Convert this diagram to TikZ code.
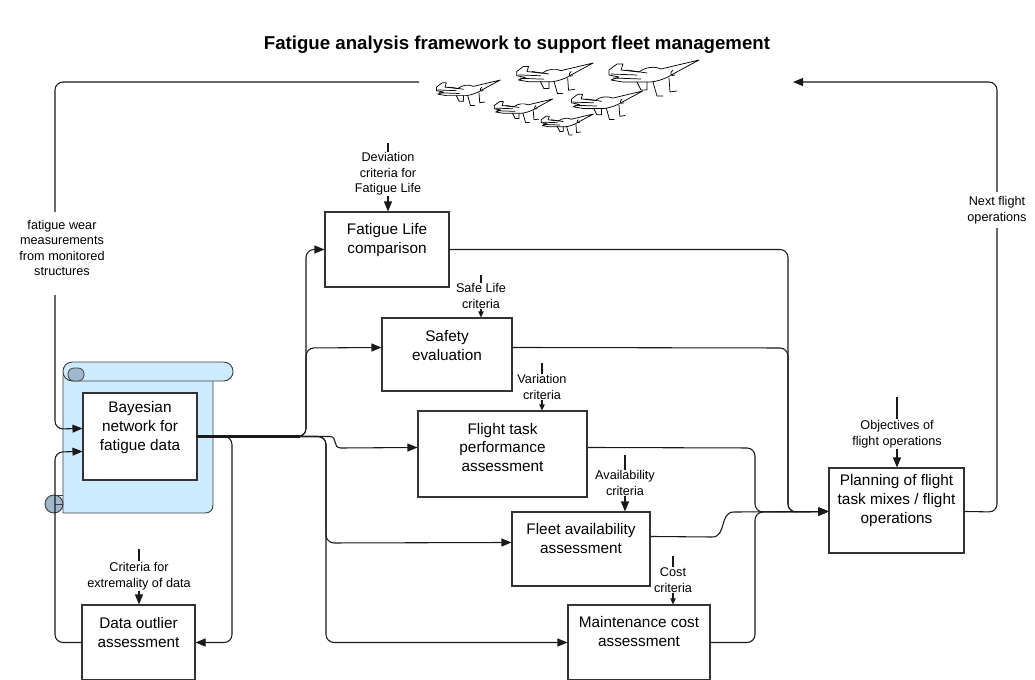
\documentclass[tikz,border=0pt]{standalone}
\usepackage{fontspec}
\setmainfont{Liberation Sans}
\usetikzlibrary{arrows.meta,calc}
\definecolor{scrollblue}{HTML}{CDEBFF}
\definecolor{curlblue}{HTML}{9FB8CD}
\begin{document}
\begin{tikzpicture}[x=0.75pt,y=-0.75pt,
  procbox/.style={draw=black!80,line width=0.8pt,fill=white,inner sep=0pt},
  boxtext/.style={font=\fontsize{11.5}{14.2}\selectfont,align=center,inner sep=0pt},
  crit/.style={font=\fontsize{9.5}{11.6}\selectfont,align=center,inner sep=0.5pt},
  conn/.style={draw=black!90,line width=0.8pt,rounded corners=6pt},
  sconn/.style={draw=black!90,line width=0.8pt,sharp corners},
  trunk/.style={conn,line width=1.6pt},
  arr/.style={-{Triangle[length=7.5pt,width=6pt]}},
  smallarr/.style={-{Triangle[length=4.5pt,width=4pt]}},
  jetline/.style={line width=0.55pt,line join=round,line cap=round},
  jet/.pic={
    \draw[jetline,fill=white] (2,10) -- (10,4) -- (16,4) -- (14,10) -- (32,12)
      .. controls (38,7) and (48,6) .. (54,9) -- (92,0) -- (66,14)
      .. controls (60,18) and (52,21) .. (44,22) -- (16,22) -- (4,20)
      -- (12,17) -- (2,15) -- cycle;
    \draw[jetline] (4,14) -- (30,15) (6,18) -- (34,19) (20,10) -- (40,13);
    \draw[jetline] (30,22) -- (34,30) -- (40,30) -- (40,22)
                   (46,22) -- (50,36) -- (56,36)
                   (62,18) -- (63,32) -- (70,31);
    \draw[jetline] (66,10) .. controls (62,13) and (64,17) .. (68,15);
  },
]
\useasboundingbox (0,0) rectangle (1035,679);
\clip (0,0) rectangle (1035,679);

% title
\node[font=\bfseries\fontsize{14}{17}\selectfont] (title) at (517,45)
  {Fatigue analysis framework to support fleet management};

% the fleet of aircraft
\pic[scale=0.71] at (435,80) {jet};
\pic[scale=0.85] at (515,63) {jet};
\pic[scale=1.0]  at (607,60) {jet};
\pic[scale=0.65] at (493,99) {jet};
\pic[scale=0.79] at (570,91) {jet};
\pic[scale=0.58] at (540,114) {jet};
\coordinate (fleetL) at (419,82);
\coordinate (fleetR) at (793,82);

% scroll behind the Bayesian network
\draw[black!75,line width=0.7pt,fill=scrollblue]
  (63,375) -- (63,513) -- (205,513) .. controls (210,513) and (213,510) .. (213,505)
  -- (213,375) -- cycle;
\draw[black!75,line width=0.7pt,fill=scrollblue,rounded corners=7pt]
  (63,362) rectangle (233,381);
\draw[black!75,line width=0.6pt,fill=curlblue,rounded corners=4.5pt]
  (68,368) rectangle (84,381);
\draw[black!75,line width=0.7pt,fill=curlblue] (54,504) circle[radius=9];
\draw[black!75,line width=0.6pt] (55,495) -- (63,495) (55,504) -- (63,504);

% process boxes
\node[procbox,minimum width=85.5pt,minimum height=65.25pt]  (bn) at (140,436.5) {};
\node[procbox,minimum width=93pt,minimum height=56.25pt]    (fl) at (387,249.5) {};
\node[procbox,minimum width=97.5pt,minimum height=54.75pt]  (se) at (447,354.5) {};
\node[procbox,minimum width=126.75pt,minimum height=64.5pt] (ft) at (502.5,454) {};
\node[procbox,minimum width=103.5pt,minimum height=55.5pt]  (fa) at (581,549) {};
\node[procbox,minimum width=106.5pt,minimum height=56.25pt] (mc) at (639,642.5) {};
\node[procbox,minimum width=84.75pt,minimum height=56.25pt] (do) at (138.5,642.5) {};
\node[procbox,minimum width=101.25pt,minimum height=63.75pt] (pl) at (896.5,510.5) {};

\node[boxtext] (bntxt) at ($(bn.north)+(0,35)$) {Bayesian\\network for\\fatigue data};
\node[boxtext] (fltxt) at ($(fl.north)+(0,29)$) {Fatigue Life\\comparison};
\node[boxtext] (setxt) at ($(se.north)+(0,28)$) {Safety\\evaluation};
\node[boxtext] (fttxt) at ($(ft.north)+(0,37)$) {Flight task\\performance\\assessment};
\node[boxtext] (fatxt) at ($(fa.north)+(0,27)$) {Fleet availability\\assessment};
\node[boxtext] (mctxt) at ($(mc.north)+(0,27)$) {Maintenance cost\\assessment};
\node[boxtext] (dotxt) at ($(do.north)+(0,28)$) {Data outlier\\assessment};
\node[boxtext] (pltxt) at ($(pl.north)+(0,33)$) {Planning of flight\\task mixes / flight\\operations};

% criteria feeding the boxes from above
\coordinate (dvs) at (388,143);
\node[crit] (dv) at (388,174) {Deviation\\criteria for\\Fatigue Life};
\draw[conn] (dvs) -- (dv.north);
\draw[conn,arr] (dv.south) -- (dv.south |- fl.north);

\coordinate (sls) at (481,275);
\node[crit] (sl) at (481,296) {Safe Life\\criteria};
\draw[conn] (sls) -- (sl.north);
\draw[conn,smallarr] (sl.south) -- (sl.south |- se.north);

\coordinate (vcs) at (542,363);
\node[crit] (vc) at (542,387) {Variation\\criteria};
\draw[conn] (vcs) -- (vc.north);
\draw[conn,smallarr] (vc.south) -- (vc.south |- ft.north);

\coordinate (avs) at (625,455);
\node[crit] (av) at (625,483) {Availability\\criteria};
\draw[conn] (avs) -- (av.north);
\draw[conn,arr] (av.south) -- (av.south |- fa.north);

\coordinate (cos) at (673,556);
\node[crit] (co) at (673,580) {Cost\\criteria};
\draw[conn] (cos) -- (co.north);
\draw[conn,smallarr] (co.south) -- (co.south |- mc.north);

\coordinate (exs) at (139,549);
\node[crit] (ex) at (139,576) {Criteria for\\extremality of data};
\draw[conn] (exs) -- (ex.north);
\draw[conn,arr] (ex.south) -- (ex.south |- do.north);

\coordinate (obs) at (897,397);
\node[crit] (ob) at (897,434) {Objectives of\\flight operations};
\draw[conn] (obs) -- (ob.north);
\draw[conn,arr] (ob.south) -- (ob.south |- pl.north);

% measurements from the fleet into the Bayesian network
\coordinate (fwa) at (55,212);
\coordinate (fwb) at (55,295);
\node[crit] (fw) at (62,248) {fatigue wear\\measurements\\from monitored\\structures};
\draw[conn] (fleetL) -- (55,82) -- (fwa);
\draw[conn,arr] (fwb) -- (55,429) -- ($(bn.north west)+(0,36)$);

% outlier feedback
\draw[conn,arr] (do.west) -- (55,642.5) -- (55,452) -- ($(bn.north west)+(0,59)$);

% outputs of the Bayesian network
\coordinate (trunkend) at (300,436.5);
\draw[conn,arr] (bn.east) -- (232,436.5) -- (232,642.5) -- (do.east);
\draw[conn,arr] (bn.east) -- (306,436.5) -- (306,249.5) -- (fl.west);
\draw[conn,arr] (bn.east) -- (306,436.5) -- (306,348) -- ($(se.north west)+(0,30)$);
\draw[sconn,arr] (bn.east) -- (330,436.5) .. controls (338,436.5) and (332,448) .. (341,448)
  -- ($(ft.north west)+(0,37)$);
\draw[conn,arr] (bn.east) -- (326,436.5) -- (326,543) -- ($(fa.north west)+(0,31)$);
\draw[conn,arr] (bn.east) -- (326,436.5) -- (326,642.5) -- (mc.west);
\draw[trunk] (bn.east) -- (trunkend);

% results collected by the planning step
\coordinate (plin) at ($(pl.north west)+(0,44)$);
\draw[conn,arr] (fl.east) -- (788,249.5) -- (788,512) -- (plin);
\draw[conn,arr] ($(se.north east)+(0,30)$) -- (788,348) -- (788,512) -- (plin);
\draw[conn,arr] ($(ft.north east)+(0,37)$) -- (755,448) -- (755,512) -- (plin);
\draw[sconn,arr] ($(fa.north east)+(0,25)$) -- (712,537) .. controls (727,537) and (719,512) .. (734,512) -- (plin);
\draw[conn,arr] (mc.east) -- (755,642.5) -- (755,512) -- (plin);

% next flight operations back to the fleet
\draw[conn,arr] ($(pl.north east)+(0,44)$) -- (997,512) -- (997,82) -- (fleetR);
\node[crit,fill=white,inner xsep=1pt,inner ysep=3pt] (nf) at (997,210) {Next flight\\operations};
\end{tikzpicture}
\end{document}
